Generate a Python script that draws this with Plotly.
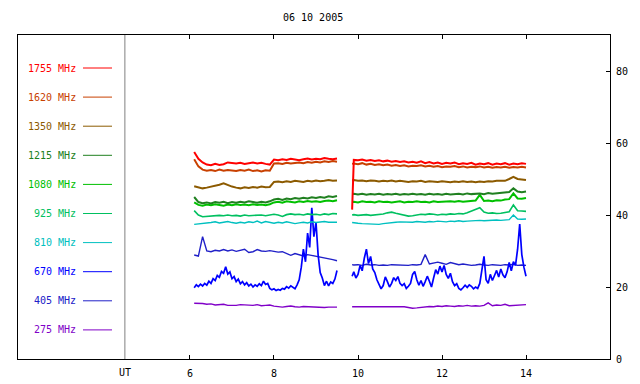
import plotly.graph_objects as go

TITLE = "06 10 2005"

# sample times (UT hours)
T1 = [6.1, 6.2, 6.3, 6.4, 6.5, 6.6, 6.7, 6.8, 6.9, 7.0,
      7.1, 7.2, 7.3, 7.4, 7.5, 7.6, 7.7, 7.8, 7.9, 8.0,
      8.1, 8.2, 8.3, 8.4, 8.5, 8.6, 8.7, 8.8, 8.9, 9.0,
      9.1, 9.2, 9.3, 9.4, 9.5]
T2 = [9.86,
      9.9, 10.0, 10.1, 10.2, 10.3, 10.4, 10.5, 10.6, 10.7, 10.8,
      10.9, 11.0, 11.1, 11.2, 11.3, 11.4, 11.5, 11.6, 11.7, 11.8,
      11.9, 12.0, 12.1, 12.2, 12.3, 12.4, 12.5, 12.6, 12.7, 12.8,
      12.9, 13.0, 13.1, 13.2, 13.3, 13.4, 13.5, 13.6, 13.7, 13.8,
      13.9, 14.0]

# finer sample times for the 670 MHz channel
T1F = [6.10, 6.15, 6.20, 6.25, 6.30, 6.35, 6.40, 6.45, 6.50, 6.55,
       6.60, 6.65, 6.70, 6.75, 6.80, 6.85, 6.90, 6.95, 7.00, 7.05,
       7.10, 7.15, 7.20, 7.25, 7.30, 7.35, 7.40, 7.45, 7.50, 7.55,
       7.60, 7.65, 7.70, 7.75, 7.80, 7.85, 7.90, 7.95, 8.00, 8.05,
       8.10, 8.15, 8.20, 8.25, 8.30, 8.35, 8.40, 8.45, 8.50, 8.55,
       8.60, 8.65, 8.70, 8.75, 8.80, 8.85, 8.90, 8.95, 9.00, 9.05,
       9.10, 9.15, 9.20, 9.25, 9.30, 9.35, 9.40, 9.45, 9.50]
T2F = [9.86, 9.90, 9.95,
       10.00, 10.05, 10.10, 10.15, 10.20, 10.25, 10.30, 10.35, 10.40, 10.45,
       10.50, 10.55, 10.60, 10.65, 10.70, 10.75, 10.80, 10.85, 10.90, 10.95,
       11.00, 11.05, 11.10, 11.15, 11.20, 11.25, 11.30, 11.35, 11.40, 11.45,
       11.50, 11.55, 11.60, 11.65, 11.70, 11.75, 11.80, 11.85, 11.90, 11.95,
       12.00, 12.05, 12.10, 12.15, 12.20, 12.25, 12.30, 12.35, 12.40, 12.45,
       12.50, 12.55, 12.60, 12.65, 12.70, 12.75, 12.80, 12.85, 12.90, 12.95,
       13.00, 13.05, 13.10, 13.15, 13.20, 13.25, 13.30, 13.35, 13.40, 13.45,
       13.50, 13.55, 13.60, 13.65, 13.70, 13.75, 13.80, 13.85, 13.90, 13.95,
       14.00]

LABELS = ["1755 MHz", "1620 MHz", "1350 MHz", "1215 MHz", "1080 MHz",
          "925 MHz", "810 MHz", "670 MHz", "405 MHz", "275 MHz"]

F1755_A = [57.5, 55.6, 54.6, 54.0, 53.8, 54.2, 53.9, 54.1, 54.6, 54.4,
           54.3, 54.5, 54.2, 54.4, 54.6, 54.3, 54.5, 54.2, 54.0, 55.4,
           55.2, 55.5, 55.3, 55.6, 55.4, 55.2, 55.5, 55.7, 55.4, 55.6,
           55.5, 55.8, 55.6, 55.5, 55.7]
F1755_B = [41.5,
           55.3, 55.2, 55.4, 55.1, 55.3, 55.0, 55.2, 54.9, 55.1, 54.8,
           55.0, 54.7, 54.9, 54.6, 54.8, 54.5, 54.9, 54.4, 54.7, 54.3,
           54.6, 54.2, 54.5, 54.3, 54.6, 54.1, 54.4, 54.2, 54.5, 54.0,
           54.3, 54.1, 54.4, 54.0, 54.3, 54.1, 54.4, 54.0, 54.3, 54.1,
           54.4, 54.2]

F1620_A = [55.5, 53.5, 52.6, 52.3, 52.5, 52.2, 52.6, 52.3, 52.5, 52.4,
           52.2, 52.5, 52.3, 52.6, 52.2, 52.4, 52.1, 52.4, 52.3, 54.3,
           54.4, 54.2, 54.5, 54.3, 54.4, 54.6, 54.4, 54.7, 54.5, 54.8,
           54.6, 54.9, 54.7, 55.0, 54.8]
F1620_B = [54.2,
           54.3, 54.1, 54.4, 54.0, 54.2, 53.9, 54.1, 53.8, 54.0, 53.7,
           53.9, 53.6, 53.8, 53.5, 53.7, 53.6, 53.8, 53.5, 53.7, 53.4,
           53.6, 53.3, 53.5, 53.4, 53.6, 53.3, 53.5, 53.2, 53.4, 53.3,
           53.5, 53.2, 53.4, 53.1, 53.3, 53.2, 53.4, 53.1, 53.3, 53.2,
           53.4, 53.2]

F1350_A = [48.0, 47.6, 47.4, 47.6, 47.8, 48.0, 48.4, 48.8, 48.3, 47.9,
           47.6, 47.4, 47.7, 47.5, 47.8, 47.6, 47.9, 47.7, 47.8, 49.2,
           49.3, 49.1, 49.4, 49.2, 49.5, 49.3, 49.2, 49.5, 49.3, 49.6,
           49.4, 49.5, 49.7, 49.5, 49.6]
F1350_B = [49.6,
           49.7, 49.5, 49.6, 49.4, 49.6, 49.5, 49.3, 49.5, 49.4, 49.6,
           49.3, 49.5, 49.4, 49.2, 49.4, 49.3, 49.5, 49.2, 49.4, 49.3,
           49.2, 49.4, 49.3, 49.1, 49.3, 49.2, 49.4, 49.2, 49.3, 49.1,
           49.3, 49.2, 49.4, 49.3, 49.5, 49.4, 49.5, 50.0, 50.6, 50.0,
           49.8, 49.7]

F1215_A = [45.0, 43.6, 43.3, 43.5, 43.2, 43.6, 43.4, 43.7, 43.3, 43.6,
           43.4, 43.7, 43.5, 43.8, 43.6, 43.4, 43.7, 43.5, 43.8, 44.3,
           44.5, 44.2, 44.6, 44.4, 44.7, 44.5, 44.8, 44.6, 44.9, 44.7,
           45.0, 44.8, 45.2, 45.0, 45.3]
F1215_B = [45.8,
           45.9, 45.7, 45.9, 45.6, 45.8, 45.7, 45.9, 45.6, 45.8, 45.7,
           45.9, 45.6, 45.8, 45.7, 45.9, 45.7, 45.8, 45.6, 45.9, 45.7,
           45.8, 45.6, 45.9, 45.7, 45.8, 45.9, 45.7, 46.0, 45.8, 45.9,
           46.0, 45.8, 46.1, 45.9, 46.0, 46.2, 46.1, 46.4, 47.4, 46.5,
           46.3, 46.5]

F1080_A = [43.5, 42.8, 42.6, 42.9, 42.7, 43.0, 42.8, 42.6, 42.9, 42.7,
           43.0, 42.8, 42.9, 42.7, 43.0, 42.8, 42.9, 42.7, 43.0, 43.5,
           43.7, 43.4, 43.8, 43.6, 43.5, 43.8, 43.6, 43.9, 43.7, 43.8,
           43.6, 43.9, 44.0, 43.8, 44.1]
F1080_B = [43.6,
           43.7, 43.5, 43.8, 43.6, 43.7, 43.5, 43.8, 43.6, 43.7, 43.5,
           43.6, 43.8, 43.5, 43.7, 43.6, 43.8, 43.6, 43.7, 43.5, 43.8,
           43.6, 43.7, 43.6, 43.8, 43.7, 43.9, 43.7, 43.8, 43.9, 44.0,
           45.6, 43.9, 44.0, 43.8, 44.1, 44.0, 44.3, 44.4, 46.0, 44.6,
           44.5, 44.7]

F925_A = [41.2, 40.0, 39.5, 39.6, 39.8, 39.7, 39.9, 39.8, 40.0, 39.8,
          39.9, 39.7, 40.0, 39.8, 39.9, 39.8, 40.0, 39.8, 40.0, 40.2,
          40.0, 39.6, 40.1, 40.3, 40.1, 40.2, 40.0, 40.3, 40.1, 40.2,
          40.0, 40.3, 40.1, 40.4, 40.3]
F925_B = [40.0,
          40.1, 39.9, 40.0, 40.1, 39.9, 40.0, 40.2, 40.3, 40.6, 40.8,
          40.5, 40.2, 39.9, 39.7, 39.8, 40.0, 40.2, 40.1, 40.3, 40.2,
          40.0, 40.2, 40.1, 40.3, 40.2, 40.4, 40.3, 40.6, 41.0, 41.4,
          42.0, 40.8, 40.5, 40.6, 40.4, 40.5, 40.6, 40.9, 42.8, 41.2,
          41.1, 41.0]

F810_A = [37.4, 37.5, 37.7, 37.6, 37.9, 38.1, 37.8, 38.0, 38.2, 37.9,
          37.7, 38.0, 37.8, 38.1, 37.9, 38.3, 37.8, 38.2, 37.9, 37.7,
          38.0, 37.8, 38.1, 37.9, 37.6, 37.8, 38.0, 37.8, 38.1, 37.9,
          38.0, 38.2, 38.0, 38.1, 38.0]
F810_B = [37.9,
          37.8, 37.7, 37.6, 37.5, 37.4, 37.5, 37.4, 37.6, 37.8, 37.9,
          38.0, 38.1, 38.0, 38.1, 38.0, 38.2, 38.1, 38.0, 38.2, 38.1,
          38.3, 38.2, 38.1, 38.3, 38.2, 38.4, 38.2, 38.3, 38.4, 38.3,
          38.5, 38.4, 38.5, 38.4, 38.6, 38.5, 38.6, 38.7, 40.0, 38.9,
          38.8, 38.9]

F670_A = [19.8, 20.6, 20.1, 20.8, 20.3, 21.0, 20.5, 21.6, 21.0, 22.3,
          21.8, 23.2, 22.7, 24.3, 23.8, 25.6, 23.6, 24.2, 22.3, 22.9,
          21.5, 22.2, 20.9, 21.5, 20.6, 21.2, 20.3, 20.8, 20.0, 20.6,
          20.2, 20.9, 20.4, 21.6, 20.7, 21.0, 19.6, 19.2, 19.5, 19.0,
          19.3, 19.1, 19.6, 19.4, 20.1, 19.7, 20.3, 19.8, 19.5, 20.6,
          22.0, 25.5, 30.5, 27.0, 35.0, 31.0, 42.0, 34.0, 38.0, 29.0,
          24.0, 22.5, 20.4, 21.6, 20.3, 21.4, 21.0, 22.2, 24.6]
F670_B = [23.0, 24.2, 22.5,
          23.5, 26.0, 24.5, 28.0, 30.5, 26.5, 28.5, 25.0, 24.0, 22.0,
          20.8, 19.5, 20.4, 22.8, 21.5, 20.0, 21.0, 22.6, 21.8, 22.9,
          21.0, 20.4, 20.9, 19.6, 20.2, 21.0, 23.5, 24.3, 22.0, 20.5,
          21.8, 20.2, 21.5, 23.0, 21.6, 20.0, 22.5, 24.8, 23.6, 25.8,
          24.2, 26.0, 23.5, 22.4, 23.8, 21.5, 20.4, 20.9, 19.6, 19.2,
          19.8, 20.5, 19.9, 20.6, 20.2, 19.5, 20.0, 19.6, 21.0, 25.5,
          28.5, 22.0, 21.0, 23.5, 21.8, 23.2, 24.6, 22.8, 25.0, 23.4,
          22.6, 24.2, 26.8, 24.5, 27.0, 26.0, 30.5, 37.5, 29.0, 25.5,
          23.0]

F405_A = [28.9, 28.6, 34.0, 30.0, 29.8, 30.2, 30.0, 30.4, 30.0, 30.3,
          29.9, 30.2, 30.5, 29.6, 29.8, 30.4, 30.0, 29.9, 30.1, 29.9,
          29.7, 29.8, 29.4, 28.8, 29.3, 29.0, 28.6, 29.0, 28.8, 28.6,
          28.4, 28.2, 27.9, 27.6, 27.3]
F405_B = [26.2,
          26.1, 26.2, 26.0, 26.3, 26.1, 26.2, 26.0, 26.1, 26.0, 26.2,
          26.1, 26.0, 26.1, 26.0, 26.2, 26.1, 26.3, 29.0, 26.4, 26.7,
          26.9, 26.6, 26.3, 26.8, 26.5, 26.2, 26.4, 26.2, 26.0, 26.1,
          26.3, 26.1, 26.0, 26.2, 26.1, 26.0, 26.2, 26.1, 26.3, 26.0,
          26.1, 26.0]

F275_A = [15.5, 15.5, 15.4, 15.2, 15.3, 15.0, 15.1, 15.2, 14.9, 14.8,
          14.9, 15.1, 15.0, 14.8, 14.9, 15.1, 14.8, 14.9, 15.0, 14.7,
          14.5, 14.4, 14.6, 14.7, 14.5, 14.4, 14.6, 14.5, 14.4, 14.3,
          14.4, 14.3, 14.4, 14.3, 14.4]
F275_B = [14.5,
          14.5, 14.4, 14.5, 14.4, 14.5, 14.6, 14.5, 14.4, 14.5, 14.6,
          14.5, 14.4, 14.5, 14.3, 14.1, 14.2, 14.4, 14.5, 14.6, 14.5,
          14.7, 14.6, 14.8, 14.7, 14.6, 14.8, 14.7, 14.9, 14.7, 14.8,
          14.7, 14.9, 15.6, 14.8, 15.0, 14.9, 15.2, 14.8, 14.9, 15.0,
          14.9, 15.1]

SERIES = [
    (T1, F1755_A, T2, F1755_B), (T1, F1620_A, T2, F1620_B),
    (T1, F1350_A, T2, F1350_B), (T1, F1215_A, T2, F1215_B),
    (T1, F1080_A, T2, F1080_B), (T1, F925_A, T2, F925_B),
    (T1, F810_A, T2, F810_B), (T1F, F670_A, T2F, F670_B),
    (T1, F405_A, T2, F405_B), (T1, F275_A, T2, F275_B),
]
COLORS = ["#ff0000", "#c84000", "#8c5a00", "#208020", "#00c000",
          "#00c060", "#00c0c0", "#0000ff", "#2020c8", "#8000c8"]
WIDTHS = [2.0, 2.0, 2.0, 2.0, 2.0, 1.6, 1.4, 1.7, 1.4, 1.4]

X_TICKS = [6, 8, 10, 12, 14]
Y_TICKS = [0, 20, 40, 60, 80]

FONT = "DejaVu Sans Mono"

fig = go.Figure()
# draw low frequencies first so that high frequencies sit on top
for i in reversed(range(len(SERIES))):
    ta, a, tb, b = SERIES[i]
    xs = ta + [9.7] + tb
    ys = a + [None] + b
    fig.add_trace(go.Scatter(x=xs, y=ys, mode="lines", connectgaps=False,
                             line=dict(color=COLORS[i], width=WIDTHS[i]),
                             showlegend=False, hoverinfo="skip"))

# the page body adds an 8 px offset; target positions are in screen pixels
OFF = 8
W, H = 640, 384
L_PX, R_PX, T_PX, B_PX = 18, 610, 35, 359
ML = L_PX - OFF
MT = T_PX - OFF
MR = W - (R_PX - OFF)
MB = H - (B_PX - OFF)
PW = R_PX - L_PX
PH = B_PX - T_PX

def px_x(p):
    return (p - L_PX) / PW

def px_y(p):
    return (B_PX - p) / PH

shapes = []
annotations = []
# separator line at the start of the UT scale
shapes.append(dict(type="line", xref="x", yref="paper", x0=4.45, x1=4.45,
                   y0=0, y1=1, line=dict(color="#808080", width=1)))
annotations.append(dict(text="UT", xref="x", yref="paper", x=4.45, y=px_y(372),
                        showarrow=False, xanchor="center", yanchor="middle",
                        font=dict(family=FONT, size=10, color="#000000")))
# legend
for k, lab in enumerate(LABELS):
    yc = 68 + k * 29.1
    annotations.append(dict(text=lab, xref="paper", yref="paper",
                            x=px_x(78), y=px_y(yc), showarrow=False,
                            xanchor="right", yanchor="middle",
                            font=dict(family=FONT, size=10, color=COLORS[k])))
    shapes.append(dict(type="line", xref="paper", yref="paper",
                       x0=px_x(83), x1=px_x(112), y0=px_y(yc), y1=px_y(yc),
                       line=dict(color=COLORS[k], width=1)))

annotations.append(dict(text=TITLE, xref="paper", yref="paper",
                        x=px_x(313), y=px_y(18), showarrow=False,
                        xanchor="center", yanchor="middle",
                        font=dict(family=FONT, size=10, color="#000000")))

fig.update_layout(
    width=W, height=H,
    margin=dict(l=ML, r=MR, t=MT, b=MB, pad=0),
    paper_bgcolor="white", plot_bgcolor="white",
    shapes=shapes, annotations=annotations,
    xaxis=dict(range=[1.905, 16.0], tickvals=X_TICKS,
               ticktext=[str(v) for v in X_TICKS],
               ticks="inside", ticklen=4, tickcolor="black",
               showline=True, linecolor="black", linewidth=1, mirror="ticks",
               showgrid=False, zeroline=False, ticklabelstandoff=5,
               tickfont=dict(family=FONT, size=10, color="black")),
    yaxis=dict(range=[0, 90], tickvals=Y_TICKS, side="right",
               ticks="inside", ticklen=4, tickcolor="black",
               showline=True, linecolor="black", linewidth=1, mirror=True,
               showgrid=False, zeroline=False, ticklabelstandoff=3,
               tickfont=dict(family=FONT, size=10, color="black")),
)

fig.write_html("out.html")
